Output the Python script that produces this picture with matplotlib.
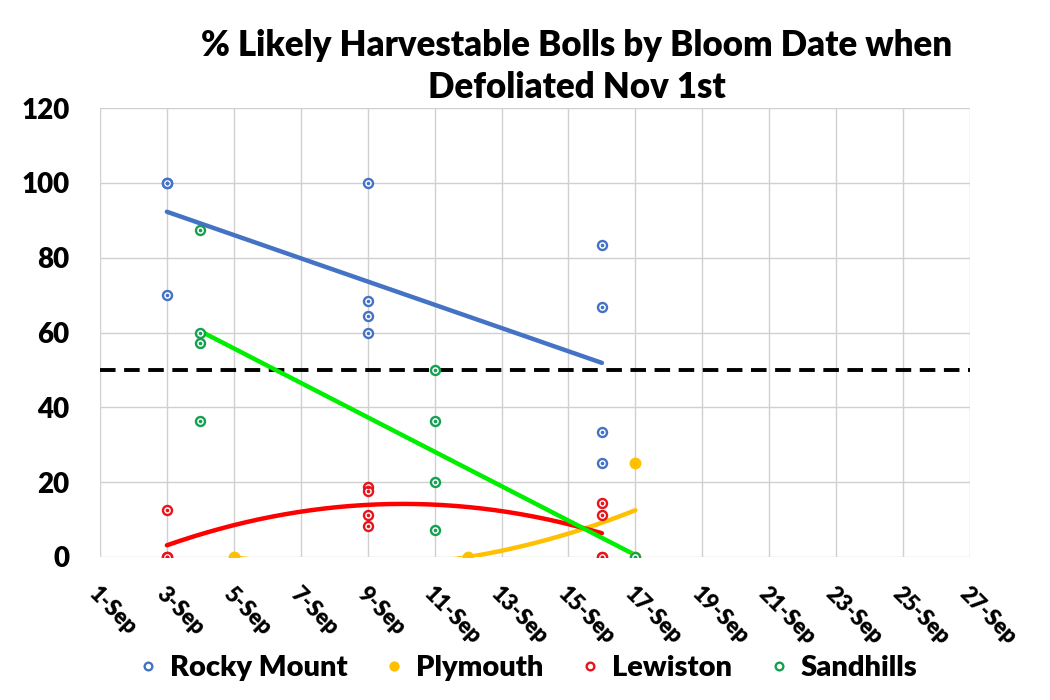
import matplotlib
matplotlib.use("Agg")
import matplotlib.pyplot as plt
import matplotlib.transforms as mtrans
import numpy as np

plt.rcParams['font.family'] = ['Lato', 'DejaVu Sans']
plt.rcParams['font.weight'] = 'heavy'

# bloom day (September) and % harvestable bolls per location
rocky_x = [3, 3, 3, 3, 9, 9, 9, 9, 16, 16, 16, 16]
rocky_y = [100, 100, 100, 70, 100, 68.5, 64.3, 60, 83.3, 66.7, 33.3, 25]

plym_x = [5, 12, 17, 17]
plym_y = [0, 0, 25, 0]

lew_x = [3, 3, 3, 3, 9, 9, 9, 9, 16, 16, 16, 16]
lew_y = [12.5, 0, 0, 0, 18.75, 17.6, 11.1, 8.3, 14.3, 11.1, 0, 0]

sand_x = [4, 4, 4, 4, 11, 11, 11, 11, 17]
sand_y = [87.5, 60, 57.1, 36.4, 50, 36.4, 20, 7.1, 0]

threshold = 50
days = list(range(1, 28, 2))
day_labels = [f"{d}-Sep" for d in days]

fig = plt.figure(figsize=(10.5, 7), dpi=100)
ax = fig.add_axes([0.0952, 0.2043, 0.8286, 0.6414])

series = [
    ("Rocky Mount", rocky_x, rocky_y, "#4472C4", "#4472C4", 1, True),
    ("Plymouth", plym_x, plym_y, "#FFC000", "#FFC000", 2, False),
    ("Lewiston", lew_x, lew_y, "#E8141C", "#FF0000", 2, True),
    ("Sandhills", sand_x, sand_y, "#14A050", "#00EE00", 1, True),
]

# trendlines first, markers on top
for name, xs, ys, mc, lc, deg, hollow in series:
    coef = np.polyfit(xs, ys, deg)
    xx = np.linspace(min(xs), max(xs), 200)
    ax.plot(xx, np.polyval(coef, xx), color=lc, lw=3.2, zorder=3,
            solid_capstyle='round')

for name, xs, ys, mc, lc, deg, hollow in series:
    if hollow:
        ax.plot(xs, ys, 'o', ms=6.5, mfc='white', mec=mc, mew=1.7, zorder=4,
                label=name)
        ax.plot(xs, ys, 'o', ms=1.6, color=mc, zorder=5)
    else:
        ax.plot(xs, ys, 'o', ms=7.5, color=mc, zorder=4, label=name)

ax.axhline(threshold, color='black', lw=2.8, ls=(0, (4, 2.2)), zorder=2)

ax.set_xlim(1, 27)
ax.set_ylim(0, 120)
ax.set_xticks(days)
ax.set_xticklabels(day_labels, rotation=-45, ha='left', va='top',
                   rotation_mode='anchor', fontsize=16, fontweight='heavy')
shift = mtrans.ScaledTranslation(0.10, 0, fig.dpi_scale_trans)
for lab in ax.get_xticklabels():
    lab.set_transform(lab.get_transform() + shift)
ax.set_yticks(range(0, 121, 20))
ax.tick_params(axis='y', labelsize=20, length=0, pad=22)
ax.tick_params(axis='x', length=0, pad=19)
for s in ax.spines.values():
    s.set_visible(False)
ax.grid(True, color='#D0D0D0', lw=1)
ax.set_axisbelow(True)

fig.text(577 / 1050, 0.958, "% Likely Harvestable Bolls by Bloom Date when\nDefoliated Nov 1st",
         ha='center', va='top', fontsize=25, fontweight='heavy', linespacing=1.3)

h, l = ax.get_legend_handles_labels()
fig.legend(h, l, loc='lower center', bbox_to_anchor=(0.503, -0.01), ncol=4,
           frameon=False, fontsize=21, handlelength=0.6, handletextpad=0.45,
           columnspacing=1.3, markerscale=0.85)

fig.savefig("out.png", dpi=100)
